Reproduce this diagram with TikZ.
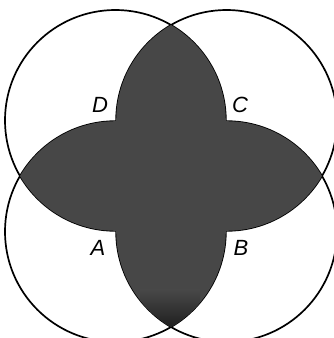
\documentclass[tikz,border=0pt]{standalone}
\usepackage{fontspec}
\setsansfont{Liberation Sans}
\begin{document}
\begin{tikzpicture}[x=1pt,y=1pt,
  ring/.style={draw, line width=1.7pt},
  overlap/.style={fill=black!72},
  setname/.style={font=\fontsize{22}{24}\selectfont\sffamily\itshape}
]
\useasboundingbox (0,0) rectangle (333,338);
\def\rad{110.4}
\coordinate (A) at (115.4,106.4);
\coordinate (B) at (226.6,106.4);
\coordinate (C) at (226.6,217.6);
\coordinate (D) at (115.4,217.6);

\foreach \p in {A,B,C,D}
  \draw[ring] (\p) circle[radius=\rad];

% overlaps of neighbouring sets
\foreach \p/\q in {A/B, B/C, C/D, D/A}{
  \begin{scope}
    \clip (\p) circle[radius=\rad];
    \fill[overlap] (\q) circle[radius=\rad];
  \end{scope}
}
% darker tip at the bottom
\begin{scope}
  \clip (A) circle[radius=\rad];
  \clip (B) circle[radius=\rad];
  \shade[top color=black!72, bottom color=black!88] (140,10) rectangle (200,48);
\end{scope}

\node[setname] (labD) at (100,233) {D};
\node[setname] (labC) at (240,233) {C};
\node[setname] (labA) at (98,90) {A};
\node[setname] (labB) at (241,90) {B};
\end{tikzpicture}
\end{document}
